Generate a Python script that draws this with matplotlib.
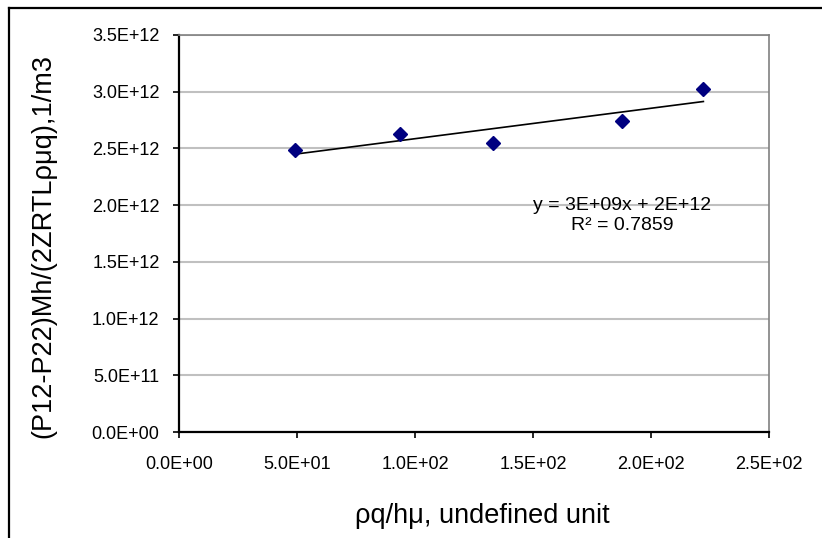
import numpy as np
import matplotlib
matplotlib.use("Agg")
import matplotlib.pyplot as plt
from matplotlib.lines import Line2D

plt.rcParams['font.family'] = ['Liberation Sans', 'DejaVu Sans']

# measured points
x_vals = [49.3, 93.6, 133.2, 187.6, 222.2]
y_vals = [2.487e12, 2.625e12, 2.551e12, 2.742e12, 3.022e12]

x_ticks = [0, 50, 100, 150, 200, 250]
y_ticks = [0, 0.5e12, 1.0e12, 1.5e12, 2.0e12, 2.5e12, 3.0e12, 3.5e12]

eq_label = "y = 3E+09x + 2E+12"
r2_label = "R² = 0.7859"

x_title = "ρq/hμ, undefined unit"
y_title = "(P12-P22)Mh/(2ZRTLρμq),1/m3"

fig = plt.figure(figsize=(8.22, 5.38), dpi=100)
ax = fig.add_axes([0.2178, 0.197, 0.7177, 0.738])

# linear trendline over the data range
x = np.array(x_vals)
y = np.array(y_vals)
slope, icept = np.polyfit(x, y, 1)
ax.plot([x.min(), x.max()], [slope * x.min() + icept, slope * x.max() + icept],
        color='black', lw=1.2, zorder=3)

ax.plot(x, y, linestyle='none', marker='D', markersize=7.5,
        color='#000080', zorder=4)

ax.set_xlim(0, 250)
ax.set_ylim(0, 3.5e12)
ax.set_xticks(x_ticks)
ax.set_yticks(y_ticks)
ax.set_xticklabels(['{:.1E}'.format(v) for v in x_ticks])
ax.set_yticklabels(['{:.1E}'.format(v) for v in y_ticks])

ax.yaxis.grid(True, color='#c0c0c0', lw=1.5)
ax.set_axisbelow(True)

for side in ['top', 'right']:
    ax.spines[side].set_color('#808080')
    ax.spines[side].set_linewidth(1.2)
for side in ['left', 'bottom']:
    ax.spines[side].set_color('black')
    ax.spines[side].set_linewidth(1.6)

ax.tick_params(axis='both', direction='out', length=4, width=1.2,
               labelsize=13, colors='black')
ax.tick_params(axis='x', pad=13)
ax.tick_params(axis='y', pad=10)

ax.text(187.7, 1.993e12, eq_label, ha='center', va='center', fontsize=14)
ax.text(187.7, 1.817e12, r2_label, ha='center', va='center', fontsize=14)

fig.text(0.587, 0.040, x_title, ha='center', va='center', fontsize=19.5)
fig.text(0.053, 0.543, y_title, ha='center', va='center', rotation=90,
         fontsize=19.5)

# chart frame (only top and left edges are in view)
fig.add_artist(Line2D([0.011, 1.0], [0.985, 0.985], color='black', lw=1.6,
                      transform=fig.transFigure))
fig.add_artist(Line2D([0.011, 0.011], [0.0, 0.985], color='black', lw=1.6,
                      transform=fig.transFigure))

fig.savefig("out.png", dpi=100)
